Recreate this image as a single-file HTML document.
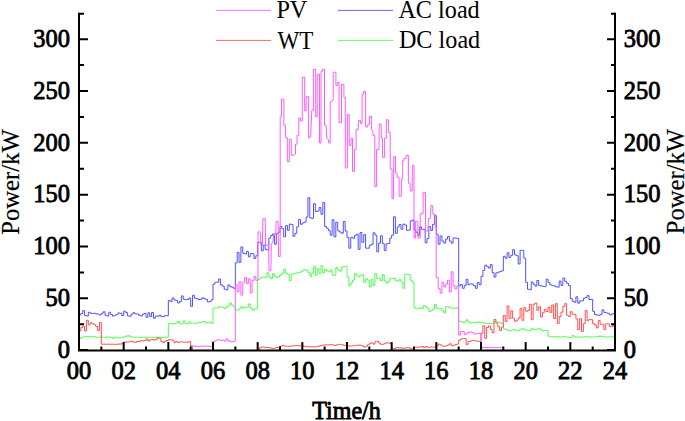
<!DOCTYPE html><html><head><meta charset="utf-8"><style>html,body{margin:0;padding:0;background:#fff;width:685px;height:421px;overflow:hidden}svg{display:block}text{font-family:"Liberation Serif",serif;fill:#000}</style></head><body>
<svg width="685" height="421" viewBox="0 0 685 421">
<path d="M80.00,338.46H80.86V337.26H82.72V336.99H84.58V336.62H86.44V336.55H88.31V337.05H90.17V336.86H92.03V336.73H93.89V336.32H95.75V337.72H97.61V337.36H99.47V336.93H101.33V337.18H103.19V337.27H105.06V337.49H106.92V336.93H108.78V336.86H110.64V337.32H112.50V338.46H114.36V337.09H116.22V337.61H118.08V337.79H119.94V337.71H121.81V337.24H123.67V336.78H125.53V336.29H127.39V335.57H129.25V336.69H131.11V337.06H132.97V337.18H134.83V337.26H136.69V337.34H138.56V337.21H140.42V337.39H142.28V337.21H144.14V337.33H146.00V337.26H147.86V337.28H149.72V337.32H151.58V337.23H153.44V337.37H155.31V337.19H157.17V337.18H159.03V337.33H160.89V337.39H162.75V337.39H164.61V337.32H166.47V337.24H168.33V323.66H170.19V323.41H172.06V323.99H173.92V323.69H175.78V322.75H177.64V321.42H179.50V323.94H181.36V323.61H183.22V320.82H185.08V323.45H186.94V323.77H188.81V321.82H190.67V323.18H192.53V323.20H194.39V323.35H196.25V322.98H198.11V322.69H199.97V322.41H201.83V322.05H203.69V321.52H205.56V322.99H207.42V322.36H209.28V322.24H211.14V323.35H213.00V308.19H214.86V307.93H216.72V308.00H218.58V306.64H220.44V307.10H222.31V307.57H224.17V308.44H226.03V307.03H227.89V305.84H229.75V302.95H231.61V305.18H233.47V306.73H235.33V310.14H237.19V310.22H239.06V308.38H240.92V306.63H242.78V308.21H244.64V307.21H246.50V307.21H248.36V303.92H250.22V308.07H252.08V310.25H253.94V308.85H255.81V308.85H257.67V279.70H259.53V278.27H261.39V277.02H263.25V277.23H265.11V277.55H266.97V272.80H268.83V276.95H270.69V278.74H272.56V273.65H274.42V276.36H276.28V277.47H278.14V276.63H280.00V274.77H281.86V273.27H283.72V269.24H285.58V273.24H287.44V274.35H289.31V280.52H291.17V274.28H293.03V273.75H294.89V273.25H296.75V272.80H298.61V272.59H300.47V271.74H302.33V270.24H304.19V269.84H306.06V270.31H307.92V272.35H309.78V276.39H311.64V272.99H313.50V266.28H315.36V275.18H317.22V268.65H319.08V273.40H320.94V265.68H322.81V272.80H324.67V269.45H326.53V271.06H328.39V271.93H330.25V269.84H332.11V275.18H333.97V275.18H335.83V267.46H337.69V270.07H339.56V271.09H341.42V267.30H343.28V266.59H345.14V266.28H347.00V277.11H348.86V285.86H350.72V282.83H352.58V280.01H354.44V273.64H356.31V275.71H358.17V276.94H360.03V275.08H361.89V274.58H363.75V282.30H365.61V278.74H367.47V280.14H369.33V287.05H371.19V279.56H373.06V285.27H374.92V273.58H376.78V278.42H378.64V278.29H380.50V280.52H382.36V274.58H384.22V280.79H386.08V283.37H387.94V281.47H389.81V278.64H391.67V278.58H393.53V278.23H395.39V280.37H397.25V281.11H399.11V279.64H400.97V282.05H402.83V288.23H404.69V274.16H406.56V274.25H408.42V274.56H410.28V280.20H412.14V281.99H414.00V307.48H415.86V308.89H417.72V308.69H419.58V307.89H421.44V308.50H423.31V305.61H425.17V306.77H427.03V308.17H428.89V311.47H430.75V310.54H432.61V309.17H434.47V304.42H436.33V308.22H438.19V308.58H440.06V308.63H441.92V310.71H443.78V312.83H445.64V306.66H447.50V306.68H449.36V308.06H451.22V307.95H453.08V308.38H454.94V308.33H456.81V307.67H458.67V321.25H460.53V321.70H462.39V322.45H464.25V322.04H466.11V319.88H467.97V321.83H469.83V322.95H471.69V322.56H473.56V322.26H475.42V322.99H477.28V321.83H479.14V322.31H481.00V322.68H482.86V323.03H484.72V323.21H486.58V323.65H488.44V323.54H490.31V323.39H492.17V323.67H494.03V321.51H495.89V322.22H497.75V322.20H499.61V322.63H501.47V323.38H503.33V328.77H505.19V329.25H507.06V330.55H508.92V330.87H510.78V330.14H512.64V329.58H514.50V330.63H516.36V330.81H518.22V330.32H520.08V329.13H521.94V328.69H523.81V329.47H525.67V330.09H527.53V330.71H529.39V330.57H531.25V328.58H533.11V329.33H534.97V329.68H536.83V328.97H538.69V328.63H540.56V329.83H542.42V330.94H544.28V330.47H546.14V330.32H548.00V336.08H549.86V336.84H551.72V336.67H553.58V336.77H555.44V337.07H557.31V336.61H559.17V337.07H561.03V337.06H562.89V336.58H564.75V336.86H566.61V337.06H568.47V337.39H570.33V337.45H572.19V335.58H574.06V337.12H575.92V336.93H577.78V337.06H579.64V337.15H581.50V337.15H583.36V336.91H585.22V336.61H587.08V337.08H588.94V337.04H590.81V336.92H592.67V336.90H594.53V336.90H596.39V336.59H598.25V336.21H600.11V336.15H601.97V336.44H603.83V336.92H605.69V337.05H607.56V337.13H609.42V337.00H611.28V336.84H613.14V336.53H614.00" fill="none" stroke="#50ff50" stroke-width="1"/>
<path d="M80.00,330.98H80.86V327.65H82.72V326.40H84.58V330.98H86.44V320.30H88.31V324.92H90.17V322.78H92.03V323.70H93.89V324.63H95.75V326.49H97.61V330.45H99.47V322.44H101.33V344.25H103.19V344.07H105.06V344.33H106.92V344.14H108.78V344.29H110.64V344.20H112.50V344.23H114.36V344.34H116.22V344.28H118.08V344.09H119.94V344.14H121.81V343.50H123.67V342.09H125.53V342.15H127.39V341.97H129.25V341.63H131.11V341.28H132.97V342.21H134.83V342.33H136.69V341.40H138.56V341.54H140.42V340.61H142.28V340.98H144.14V340.35H146.00V339.00H147.86V341.06H149.72V339.69H151.58V339.50H153.44V340.12H155.31V339.40H157.17V337.81H159.03V338.30H160.89V341.43H162.75V342.74H164.61V341.33H166.47V340.46H168.33V339.53H170.19V339.83H172.06V340.11H173.92V342.66H175.78V341.59H177.64V342.39H179.50V341.86H181.36V341.91H183.22V342.18H185.08V342.16H186.94V342.11H188.81V341.49H190.67V346.82H192.53V350.50H194.39V350.50H196.25V350.50H198.11V350.50H199.97V350.50H201.83V350.50H203.69V350.50H205.56V350.50H207.42V350.50H209.28V350.50H211.14V350.50H213.00V350.50H214.86V350.50H216.72V350.50H218.58V350.50H220.44V350.50H222.31V350.50H224.17V350.50H226.03V350.50H227.89V350.50H229.75V350.50H231.61V350.50H233.47V350.50H235.33V350.50H237.19V350.50H239.06V350.50H240.92V350.50H242.78V350.50H244.64V350.50H246.50V350.50H248.36V350.50H250.22V350.50H252.08V350.50H253.94V350.50H255.81V350.50H257.67V350.50H259.53V347.75H261.39V346.92H263.25V347.08H265.11V347.51H266.97V347.51H268.83V347.79H270.69V348.13H272.56V348.42H274.42V348.08H276.28V347.63H278.14V347.17H280.00V346.34H281.86V345.41H283.72V346.02H285.58V346.21H287.44V346.27H289.31V346.20H291.17V346.02H293.03V345.83H294.89V345.35H296.75V345.57H298.61V345.90H300.47V346.02H302.33V346.03H304.19V346.49H306.06V346.64H307.92V346.83H309.78V346.82H311.64V346.74H313.50V347.01H315.36V346.73H317.22V346.39H319.08V345.77H320.94V345.49H322.81V345.08H324.67V344.84H326.53V345.02H328.39V344.84H330.25V344.65H332.11V344.84H333.97V345.40H335.83V345.08H337.69V344.40H339.56V344.33H341.42V344.79H343.28V345.26H345.14V345.59H347.00V345.84H348.86V346.02H350.72V346.02H352.58V345.70H354.44V345.40H356.31V345.39H358.17V345.11H360.03V345.22H361.89V345.83H363.75V346.99H365.61V346.25H367.47V344.73H369.33V343.30H371.19V342.92H373.06V344.08H374.92V341.66H376.78V341.34H378.64V342.97H380.50V344.38H382.36V344.33H384.22V343.32H386.08V342.78H387.94V342.95H389.81V343.46H391.67V348.77H393.53V348.67H395.39V347.75H397.25V347.61H399.11V347.89H400.97V348.12H402.83V348.29H404.69V347.98H406.56V347.73H408.42V347.73H410.28V348.87H412.14V348.60H414.00V347.31H415.86V347.14H417.72V347.14H419.58V347.03H421.44V346.46H423.31V347.62H425.17V346.54H427.03V347.21H428.89V347.29H430.75V347.14H432.61V347.14H434.47V347.14H436.33V345.97H438.19V344.17H440.06V344.99H441.92V346.01H443.78V346.34H445.64V345.86H447.50V345.00H449.36V343.80H451.22V345.78H453.08V345.21H454.94V344.76H456.81V344.08H458.67V340.22H460.53V338.98H462.39V338.61H464.25V338.61H466.11V344.45H467.97V341.47H469.83V341.13H471.69V340.59H473.56V340.43H475.42V341.00H477.28V341.28H479.14V341.52H481.00V333.36H482.86V325.77H484.72V338.32H486.58V327.52H488.44V325.88H490.31V329.29H492.17V332.77H494.03V319.47H495.89V322.85H497.75V326.82H499.61V330.43H501.47V327.10H503.33V315.22H505.19V321.45H507.06V306.02H508.92V318.49H510.78V310.90H512.64V318.32H514.50V321.35H516.36V320.29H518.22V317.86H520.08V308.40H521.94V320.27H523.81V307.63H525.67V311.25H527.53V310.54H529.39V304.24H531.25V319.67H533.11V304.18H534.97V303.03H536.83V310.32H538.69V306.75H540.56V317.04H542.42V312.63H544.28V309.38H546.14V311.51H548.00V307.06H549.86V312.40H551.72V305.04H553.58V318.54H555.44V303.65H557.31V323.50H559.17V316.51H561.03V312.17H562.89V306.41H564.75V303.65H566.61V315.29H568.47V316.52H570.33V311.71H572.19V314.35H574.06V314.34H575.92V318.90H577.78V329.70H579.64V318.69H581.50V331.56H583.36V323.50H585.22V310.47H587.08V320.77H588.94V319.45H590.81V319.68H592.67V323.66H594.53V325.06H596.39V327.86H598.25V320.55H600.11V324.13H601.97V324.27H603.83V329.55H605.69V323.79H607.56V323.96H609.42V326.62H611.28V326.70H613.14V324.74H614.00" fill="none" stroke="#ff5050" stroke-width="1"/>
<path d="M80.00,314.96H80.86V313.61H82.72V310.68H84.58V315.50H86.44V316.03H88.31V312.29H90.17V313.35H92.03V313.35H93.89V313.35H95.75V313.89H97.61V314.18H99.47V314.88H101.33V313.27H103.19V311.75H105.06V315.33H106.92V316.03H108.78V312.29H110.64V314.60H112.50V316.03H114.36V315.34H116.22V314.40H118.08V312.96H119.94V313.25H121.81V315.57H123.67V311.22H125.53V312.38H127.39V315.91H129.25V316.28H131.11V314.14H132.97V312.71H134.83V313.84H136.69V313.89H138.56V315.21H140.42V316.04H142.28V314.30H144.14V313.37H146.00V317.31H147.86V312.79H149.72V316.56H151.58V312.47H153.44V318.16H155.31V316.08H157.17V316.21H159.03V315.17H160.89V316.63H162.75V316.62H164.61V315.49H166.47V315.75H168.33V300.41H170.19V301.57H172.06V297.99H173.92V299.91H175.78V300.44H177.64V302.96H179.50V301.59H181.36V295.92H183.22V299.23H185.08V299.68H186.94V299.54H188.81V298.02H190.67V306.32H192.53V295.37H194.39V298.18H196.25V298.65H198.11V299.56H199.97V299.26H201.83V297.82H203.69V298.73H205.56V299.37H207.42V301.92H209.28V301.38H211.14V299.89H213.00V284.19H214.86V282.30H216.72V282.23H218.58V278.96H220.44V284.83H222.31V286.07H224.17V289.22H226.03V289.90H227.89V284.94H229.75V286.63H231.61V287.30H233.47V288.40H235.33V262.85H237.19V252.45H239.06V262.30H240.92V246.97H242.78V253.30H244.64V253.92H246.50V251.35H248.36V256.83H250.22V253.54H252.08V253.79H253.94V258.47H255.81V255.73H257.67V242.32H259.53V242.32H261.39V250.87H263.25V245.17H265.11V249.33H266.97V249.92H268.83V238.14H270.69V235.42H272.56V233.90H274.42V244.22H276.28V233.55H278.14V232.20H280.00V226.53H281.86V228.61H283.72V236.88H285.58V225.61H287.44V230.36H289.31V224.10H291.17V224.52H293.03V236.29H294.89V233.30H296.75V226.75H298.61V219.60H300.47V224.29H302.33V222.90H304.19V222.11H306.06V217.05H307.92V197.72H309.78V217.91H311.64V218.38H313.50V203.65H315.36V211.52H317.22V210.98H319.08V207.57H320.94V214.33H322.81V202.46H324.67V226.53H326.53V228.30H328.39V230.67H330.25V235.18H332.11V219.75H333.97V236.96H335.83V222.12H337.69V230.86H339.56V232.10H341.42V233.21H343.28V221.53H345.14V231.03H347.00V237.51H348.86V248.23H350.72V237.32H352.58V238.15H354.44V235.59H356.31V234.16H358.17V249.42H360.03V232.53H361.89V242.30H363.75V234.58H365.61V248.23H367.47V248.23H369.33V245.27H371.19V244.35H373.06V232.80H374.92V235.11H376.78V251.76H378.64V243.13H380.50V235.77H382.36V243.61H384.22V250.61H386.08V243.88H387.94V243.49H389.81V238.18H391.67V235.13H393.53V216.78H395.39V233.40H397.25V227.00H399.11V224.50H400.97V229.24H402.83V224.12H404.69V225.09H406.56V230.43H408.42V230.05H410.28V220.84H412.14V220.00H414.00V229.45H415.86V232.21H417.72V235.47H419.58V226.87H421.44V229.29H423.31V229.61H425.17V242.89H427.03V238.59H428.89V226.64H430.75V230.43H432.61V224.33H434.47V215.59H436.33V234.39H438.19V244.24H440.06V235.93H441.92V241.04H443.78V243.06H445.64V239.08H447.50V236.53H449.36V241.12H451.22V243.20H453.08V238.01H454.94V238.08H456.81V238.27H458.67V285.95H460.53V284.43H462.39V288.32H464.25V285.36H466.11V279.42H467.97V284.76H469.83V283.84H471.69V284.11H473.56V285.61H475.42V288.32H477.28V282.39H479.14V284.83H481.00V276.45H482.86V270.52H484.72V265.18H486.58V266.60H488.44V268.15H490.31V264.58H492.17V272.65H494.03V277.05H495.89V272.80H497.75V272.18H499.61V271.56H501.47V270.85H503.33V256.28H505.19V258.28H507.06V252.72H508.92V257.46H510.78V255.35H512.64V249.75H514.50V254.82H516.36V255.67H518.22V263.99H520.08V250.34H521.94V250.34H523.81V258.21H525.67V282.31H527.53V289.27H529.39V289.78H531.25V282.04H533.11V284.36H534.97V286.20H536.83V280.47H538.69V285.43H540.56V285.90H542.42V286.37H544.28V286.67H546.14V279.23H548.00V282.34H549.86V284.83H551.72V285.43H553.58V285.90H555.44V286.78H557.31V287.14H559.17V281.09H561.03V285.43H562.89V277.99H564.75V281.25H566.61V283.27H568.47V285.60H570.33V298.54H572.19V301.20H574.06V302.31H575.92V296.82H577.78V303.20H579.64V300.85H581.50V300.99H583.36V298.21H585.22V297.41H587.08V295.58H588.94V299.50H590.81V299.42H592.67V311.33H594.53V314.50H596.39V315.12H598.25V315.19H600.11V314.65H601.97V309.85H603.83V312.41H605.69V312.88H607.56V313.34H609.42V314.98H611.28V314.08H613.14V313.57H614.00" fill="none" stroke="#5050ff" stroke-width="1"/>
<path d="M80.00,350.5V350.50H80.86V350.50H82.72V350.50H84.58V350.50H86.44V350.50H88.31V350.50H90.17V350.50H92.03V350.50H93.89V350.50H95.75V350.50H97.61V350.50H99.47V350.50H101.33V350.50H103.19V350.50H105.06V350.50H106.92V350.50H108.78V350.50H110.64V350.50H112.50V350.50H114.36V350.50H116.22V350.50H118.08V350.50H119.94V350.50H121.81V350.50H123.67V350.50H125.53V350.50H127.39V350.50H129.25V350.50H131.11V350.50H132.97V350.50H134.83V350.50H136.69V350.50H138.56V350.50H140.42V350.50H142.28V350.50H144.14V350.50H146.00V350.50H147.86V350.50H149.72V350.50H151.58V350.50H153.44V350.50H155.31V350.50H157.17V350.50H159.03V350.50H160.89V350.50H162.75V350.50H164.61V350.50H166.47V350.50H168.33V350.50H170.19V350.50H172.06V350.50H173.92V350.50H175.78V350.50H177.64V350.50H179.50V350.50H181.36V350.50H183.22V350.50H185.08V350.50H186.94V350.50H188.81V350.50H190.67V345.62H192.53V346.14H194.39V346.50H196.25V346.32H198.11V346.46H199.97V346.23H201.83V346.06H203.69V346.26H205.56V345.98H207.42V346.19H209.28V346.41H211.14V346.53H213.00V341.66H214.86V340.78H216.72V339.97H218.58V339.71H220.44V340.43H222.31V340.19H224.17V341.13H226.03V338.94H227.89V340.86H229.75V341.43H231.61V341.83H233.47V341.36H235.33V284.57H237.19V291.88H239.06V281.77H240.92V295.16H242.78V282.38H244.64V277.64H246.50V283.66H248.36V278.74H250.22V292.97H252.08V280.46H253.94V276.55H255.81V280.38H257.67L258.00,277.50L258.00,231.90L259.90,231.90L260.50,233.80L260.80,245.20L262.40,245.20L262.90,218.60L265.20,218.60L265.60,245.20L268.00,245.20L268.60,244.20L269.00,270.80L270.90,270.80L271.30,244.20L272.80,242.30L273.80,234.70L275.70,233.80L276.20,221.40L278.10,221.40L278.50,256.60L280.20,256.60L280.20,116.30L281.50,116.30L281.50,99.20L283.90,99.20L283.90,125.20L285.40,125.20L285.70,137.60L287.30,137.60L287.30,161.60L289.30,161.60L289.30,139.40L291.30,139.40L291.30,155.30L293.50,155.30L295.50,154.20L295.50,144.20L297.00,144.20L297.00,135.30L298.80,135.30L298.80,118.00L300.50,118.00L300.50,121.00L302.30,121.00L302.30,77.20L304.70,77.20L304.70,110.90L306.20,110.90L306.20,96.60L308.60,96.60L308.60,138.20L310.60,137.00L311.80,110.30L313.40,110.30L313.40,69.50L315.70,69.50L315.70,116.90L317.20,116.90L317.20,74.20L319.50,74.20L319.50,143.00L321.00,143.00L321.00,71.30L322.50,71.30L322.50,69.30L324.50,69.30L324.50,125.20L326.10,125.20L326.70,138.20L328.40,139.40L328.80,143.00L330.20,143.00L330.20,102.00L332.00,101.00L333.20,100.00L333.20,72.20L335.90,72.20L335.90,85.50L337.30,85.50L337.30,82.50L339.10,82.50L339.10,122.60L341.50,122.60L341.50,84.30L343.90,84.30L343.90,97.40L345.30,97.40L345.30,168.00L347.40,168.00L347.40,114.50L349.20,114.50L349.20,145.40L351.00,145.40L351.00,138.20L352.50,138.20L352.50,171.40L354.40,171.40L354.40,149.50L356.10,149.50L356.10,129.30L358.20,129.30L358.50,120.40L360.50,120.40L360.50,123.40L362.10,123.40L362.10,94.40L363.50,94.40L363.50,91.50L365.60,91.50L365.60,127.00L367.70,127.00L367.70,124.60L369.40,124.60L369.40,116.30L371.60,116.30L371.60,129.90L372.80,130.50L373.00,135.30L374.80,135.30L374.80,186.60L376.60,186.60L376.60,149.50L379.00,149.50L379.20,124.00L381.10,124.00L381.30,138.20L382.50,138.20L382.50,157.40L384.60,157.40L384.60,138.20L386.30,138.20L386.30,119.80L388.40,119.80L388.40,132.30L390.20,132.30L390.20,169.00L392.00,169.00L392.00,198.70L393.40,198.70L393.80,156.50L395.50,156.50L395.50,172.60L397.00,173.00L397.30,177.30L399.10,177.30L399.10,196.30L401.20,196.30L401.50,179.00L402.70,179.00L402.70,160.70L403.90,160.70L403.90,158.30L406.20,158.30L406.20,155.30L408.40,155.30L408.40,183.20L410.00,183.20L410.40,191.00L412.20,191.00L412.40,165.40L414.00,165.40L414.00,238.00L415.40,238.00L415.40,221.50L417.80,221.50L418.00,238.00L420.20,238.00L420.20,213.70L422.00,213.70L423.10,213.70L423.10,192.40L425.50,192.40L425.50,231.00L427.90,231.00L428.50,218.50L430.30,218.50L430.90,205.40L432.60,205.40L433.00,214.30L435.00,214.30L435.00,226.80L436.20,226.80L436.20,277.70V277.70H436.33V277.70H438.19V288.40H440.06V293.10H441.92V282.50H443.78V287.00H445.64V284.20H447.50V280.10H449.36V292.00H451.22V271.80H453.08V285.40H454.94V289.00H456.81V286.00H458.67V335.10H460.53V331.71H462.39V331.50H464.25V334.73H466.11V333.23H467.97V332.26H469.83V332.10H471.69V332.64H473.56V333.82H475.42V333.90H477.28V333.30H479.14V333.23H481.00V347.41H482.86V347.45H484.72V347.50H486.58V347.54H488.44V347.59H490.31V347.58H492.17V347.55H494.03V347.52H495.89V347.50H497.75V347.47H499.61V347.44H501.47V347.41H503.33V350.50H505.19V350.50H507.06V350.50H508.92V350.50H510.78V350.50H512.64V350.50H514.50V350.50H516.36V350.50H518.22V350.50H520.08V350.50H521.94V350.50H523.81V350.50H525.67V350.50H527.53V350.50H529.39V350.50H531.25V350.50H533.11V350.50H534.97V350.50H536.83V350.50H538.69V350.50H540.56V350.50H542.42V350.50H544.28V350.50H546.14V350.50H548.00V350.50H549.86V350.50H551.72V350.50H553.58V350.50H555.44V350.50H557.31V350.50H559.17V350.50H561.03V350.50H562.89V350.50H564.75V350.50H566.61V350.50H568.47V350.50H570.33V350.50H572.19V350.50H574.06V350.50H575.92V350.50H577.78V350.50H579.64V350.50H581.50V350.50H583.36V350.50H585.22V350.50H587.08V350.50H588.94V350.50H590.81V350.50H592.67V350.50H594.53V350.50H596.39V350.50H598.25V350.50H600.11V350.50H601.97V350.50H603.83V350.50H605.69V350.50H607.56V350.50H609.42V350.50H611.28V350.50H613.14V350.50H614.00" fill="none" stroke="#ff5cff" stroke-width="1"/>
<g stroke="#000" stroke-width="2" fill="none" stroke-linecap="butt">
<path d="M79,12.8 V350.5 H615 V12.8"/>
<path d="M79,350.1 h9 M615,350.1 h-8"/>
<path d="M79,324.2 h5 M615,324.2 h-4"/>
<path d="M79,298.3 h9 M615,298.3 h-8"/>
<path d="M79,272.4 h5 M615,272.4 h-4"/>
<path d="M79,246.5 h9 M615,246.5 h-8"/>
<path d="M79,220.6 h5 M615,220.6 h-4"/>
<path d="M79,194.7 h9 M615,194.7 h-8"/>
<path d="M79,168.7 h5 M615,168.7 h-4"/>
<path d="M79,142.8 h9 M615,142.8 h-8"/>
<path d="M79,116.9 h5 M615,116.9 h-4"/>
<path d="M79,91.0 h9 M615,91.0 h-8"/>
<path d="M79,65.1 h5 M615,65.1 h-4"/>
<path d="M79,39.2 h9 M615,39.2 h-8"/>
<path d="M79,13.8 h5 M615,13.8 h-4"/>
<path d="M79.00,350.5 v-8.4"/>
<path d="M101.33,350.5 v-4"/>
<path d="M123.67,350.5 v-8.4"/>
<path d="M146.00,350.5 v-4"/>
<path d="M168.33,350.5 v-8.4"/>
<path d="M190.67,350.5 v-4"/>
<path d="M213.00,350.5 v-8.4"/>
<path d="M235.33,350.5 v-4"/>
<path d="M257.67,350.5 v-8.4"/>
<path d="M280.00,350.5 v-4"/>
<path d="M302.33,350.5 v-8.4"/>
<path d="M324.67,350.5 v-4"/>
<path d="M347.00,350.5 v-8.4"/>
<path d="M369.33,350.5 v-4"/>
<path d="M391.67,350.5 v-8.4"/>
<path d="M414.00,350.5 v-4"/>
<path d="M436.33,350.5 v-8.4"/>
<path d="M458.67,350.5 v-4"/>
<path d="M481.00,350.5 v-8.4"/>
<path d="M503.33,350.5 v-4"/>
<path d="M525.67,350.5 v-8.4"/>
<path d="M548.00,350.5 v-4"/>
<path d="M570.33,350.5 v-8.4"/>
<path d="M592.67,350.5 v-4"/>
<path d="M615.00,350.5 v-8.4"/>
</g>
<g font-size="24" style="stroke:#000;stroke-width:0.8px">
<text transform="translate(70,357.80) scale(1.02,1.085)" text-anchor="end">0</text>
<text transform="translate(623.8,357.80) scale(1.02,1.085)">0</text>
<text transform="translate(70,305.99) scale(1.02,1.085)" text-anchor="end">50</text>
<text transform="translate(623.8,305.99) scale(1.02,1.085)">50</text>
<text transform="translate(70,254.17) scale(1.02,1.085)" text-anchor="end">100</text>
<text transform="translate(623.8,254.17) scale(1.02,1.085)">100</text>
<text transform="translate(70,202.36) scale(1.02,1.085)" text-anchor="end">150</text>
<text transform="translate(623.8,202.36) scale(1.02,1.085)">150</text>
<text transform="translate(70,150.54) scale(1.02,1.085)" text-anchor="end">200</text>
<text transform="translate(623.8,150.54) scale(1.02,1.085)">200</text>
<text transform="translate(70,98.73) scale(1.02,1.085)" text-anchor="end">250</text>
<text transform="translate(623.8,98.73) scale(1.02,1.085)">250</text>
<text transform="translate(70,46.91) scale(1.02,1.085)" text-anchor="end">300</text>
<text transform="translate(623.8,46.91) scale(1.02,1.085)">300</text>
<text transform="translate(79.00,378.6) scale(1.02,1.085)" text-anchor="middle">00</text>
<text transform="translate(123.67,378.6) scale(1.02,1.085)" text-anchor="middle">02</text>
<text transform="translate(168.33,378.6) scale(1.02,1.085)" text-anchor="middle">04</text>
<text transform="translate(213.00,378.6) scale(1.02,1.085)" text-anchor="middle">06</text>
<text transform="translate(257.67,378.6) scale(1.02,1.085)" text-anchor="middle">08</text>
<text transform="translate(302.33,378.6) scale(1.02,1.085)" text-anchor="middle">10</text>
<text transform="translate(347.00,378.6) scale(1.02,1.085)" text-anchor="middle">12</text>
<text transform="translate(391.67,378.6) scale(1.02,1.085)" text-anchor="middle">14</text>
<text transform="translate(436.33,378.6) scale(1.02,1.085)" text-anchor="middle">16</text>
<text transform="translate(481.00,378.6) scale(1.02,1.085)" text-anchor="middle">18</text>
<text transform="translate(525.67,378.6) scale(1.02,1.085)" text-anchor="middle">20</text>
<text transform="translate(570.33,378.6) scale(1.02,1.085)" text-anchor="middle">22</text>
<text transform="translate(615.00,378.6) scale(1.02,1.085)" text-anchor="middle">24</text>
</g>
<text transform="translate(346.5,419) scale(1,1.06)" font-size="24" text-anchor="middle" style="stroke:#000;stroke-width:0.85px">Time/h</text>
<text transform="translate(19.3,182) rotate(-90) scale(1.01,1.05)" font-size="24.4" text-anchor="middle" style="stroke:#000;stroke-width:0.2px">Power/kW</text>
<text transform="translate(683.6,181.6) rotate(-90) scale(1.01,1.05)" font-size="24.4" text-anchor="middle" style="stroke:#000;stroke-width:0.2px">Power/kW</text>
<g stroke-width="1">
<path d="M216,10.4 H271" stroke="#ff70ff"/>
<path d="M216,40.4 H271" stroke="#ff6464"/>
<path d="M338,10.4 H393" stroke="#6a6aff"/>
<path d="M338,40.4 H393" stroke="#64ff64"/>
</g>
<g font-size="24.2">
<text transform="translate(276.4,18.3) scale(1,1.02)">PV</text>
<text transform="translate(277.4,48.5) scale(0.955,1.02)">WT</text>
<text transform="translate(398.4,18.3) scale(1,1.02)">AC load</text>
<text transform="translate(398.9,48.4) scale(1,1.02)">DC load</text>
</g>
</svg></body></html>
